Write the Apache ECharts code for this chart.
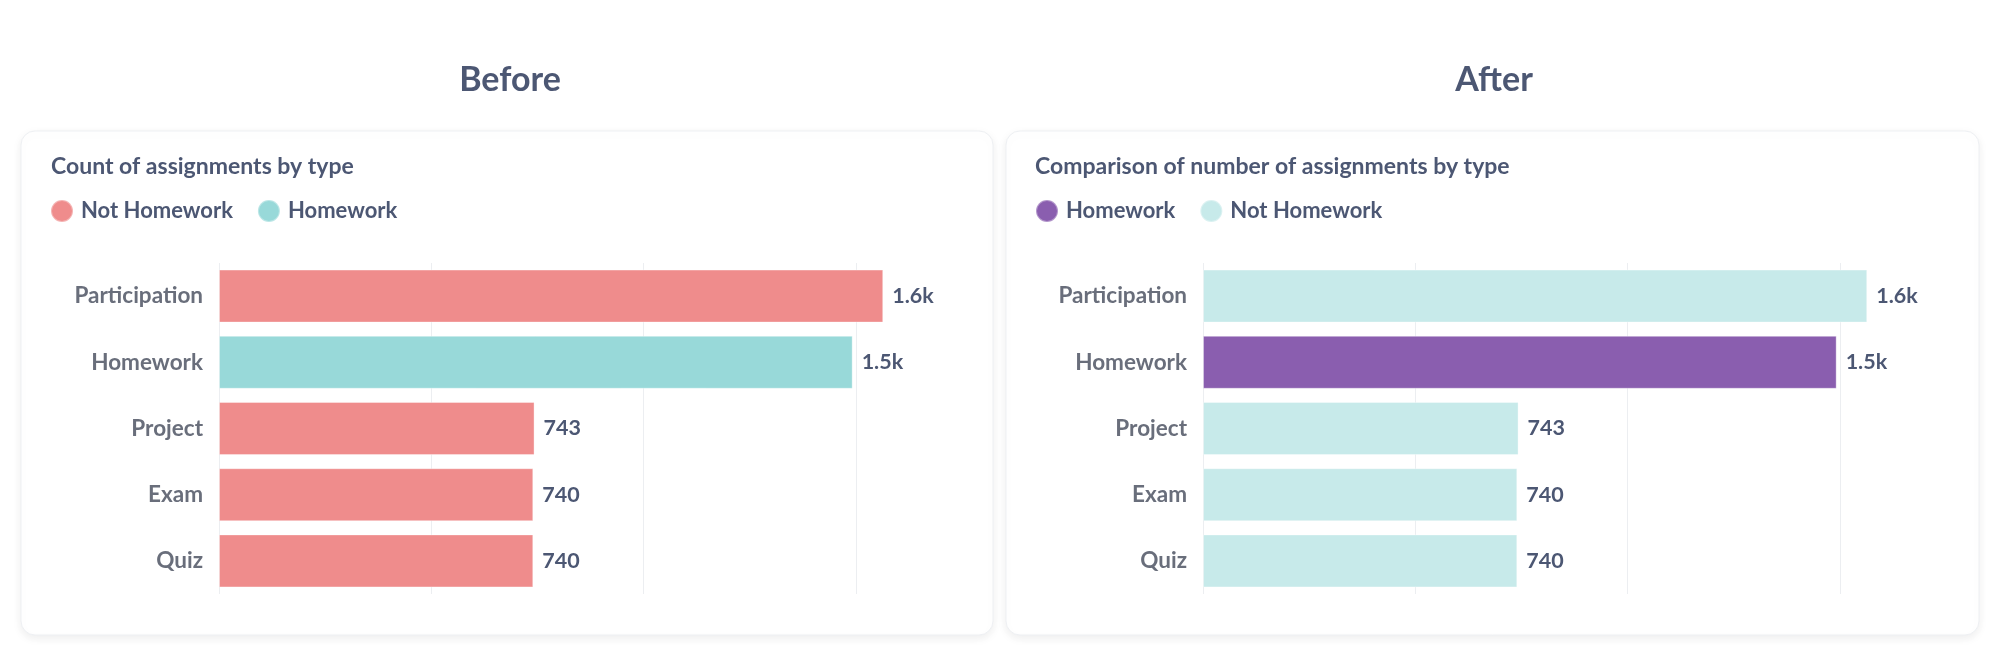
<!DOCTYPE html>
<html>
<head>
<meta charset="utf-8">
<script src="https://cdn.jsdelivr.net/npm/echarts@6/dist/echarts.min.js"></script>
<style>
  html, body { margin: 0; padding: 0; background: #ffffff; }
  #chart { width: 1999px; height: 651px; }
</style>
</head>
<body>
<div id="chart"></div>
<script>
// ---- data ----
const categories = ['Participation', 'Homework', 'Project', 'Exam', 'Quiz'];
const notHomeworkCounts = [1564, '-', 743, 740, 740];
const homeworkCounts = ['-', 1492, '-', '-', '-'];
const panelTitles = ['Before', 'After'];
const cardTitles = ['Count of assignments by type', 'Comparison of number of assignments by type'];

// ---- styling ----
const FONT = 'Lato';
const beforeColors = { notHw: '#EF8C8C', hw: '#98D9D9' };
const afterColors = { notHw: '#C7EAEA', hw: '#8A5EAF' };
const titleColor = '#4C5773';
const labelGray = '#696E7B';

function fmt(v) {
  if (v >= 1000) return (v / 1000).toFixed(1) + 'k';
  return String(v);
}

const chart = echarts.init(document.getElementById('chart'), null, { renderer: 'canvas' });

const cards = [
  { x: 21, w: 972, center: 510, gridLeft: 219, textLeft: 51, legendLeft: 45 },
  { x: 1006, w: 973, center: 1494, gridLeft: 1203, textLeft: 1035, legendLeft: 1030 }
];

const gridTop = 263;
const gridHeight = 331;
const axisMax = 1600;
const pxPerUnit = 0.4247;

const grids = cards.map(c => ({
  left: c.gridLeft, top: gridTop, height: gridHeight, width: axisMax * pxPerUnit, containLabel: false
}));

const xAxes = cards.map((c, i) => ({
  type: 'value', gridIndex: i, min: 0, max: axisMax, interval: 500,
  axisLabel: { show: false }, axisLine: { show: false }, axisTick: { show: false },
  splitLine: { show: true, showMaxLine: false, lineStyle: { color: '#ECEEF1', width: 1 } }
}));

const yAxes = cards.map((c, i) => ({
  type: 'category', gridIndex: i, data: categories, inverse: true,
  axisLine: { show: false }, axisTick: { show: false },
  axisLabel: { margin: 16, fontFamily: FONT, fontSize: 22.5, fontWeight: 'bold', color: labelGray }
}));

const labelOpt = {
  show: true, position: 'right', distance: 9,
  fontFamily: FONT, fontSize: 21.5, fontWeight: 'bold', color: titleColor,
  formatter: p => fmt(p.value)
};

function barSeries(name, data, color, idx) {
  return {
    type: 'bar', name: name, data: data, xAxisIndex: idx, yAxisIndex: idx,
    barGap: '-100%', barCategoryGap: '20%',
    itemStyle: { color: color, borderColor: 'rgba(255,255,255,0.35)', borderWidth: 1 },
    label: labelOpt, silent: true, animation: false
  };
}

const series = [
  barSeries('Not Homework', notHomeworkCounts, beforeColors.notHw, 0),
  barSeries('Homework', homeworkCounts, beforeColors.hw, 0),
  barSeries('Homework', homeworkCounts, afterColors.hw, 1),
  barSeries('Not Homework', notHomeworkCounts, afterColors.notHw, 1)
];

const legendBase = {
  icon: 'circle', itemWidth: 22, itemHeight: 22, itemGap: 24, top: 194,
  selectedMode: false, orient: 'horizontal',
  textStyle: { fontFamily: FONT, fontSize: 22, fontWeight: 'bold', color: titleColor, padding: [0, 0, 0, 3] }
};

const legends = [
  Object.assign({}, legendBase, {
    left: cards[0].legendLeft,
    data: [
      { name: 'Not Homework', itemStyle: { color: beforeColors.notHw } },
      { name: 'Homework', itemStyle: { color: beforeColors.hw } }
    ]
  }),
  Object.assign({}, legendBase, {
    left: cards[1].legendLeft,
    data: [
      { name: 'Homework', itemStyle: { color: afterColors.hw } },
      { name: 'Not Homework', itemStyle: { color: afterColors.notHw } }
    ]
  })
];

const graphics = [];
cards.forEach((c, i) => {
  graphics.push({
    type: 'rect', z: -10,
    shape: { x: c.x, y: 131, width: c.w, height: 504, r: 14 },
    style: { fill: '#ffffff', stroke: '#EEF0F3', lineWidth: 1,
             shadowBlur: 10, shadowOffsetY: 3, shadowColor: 'rgba(0,0,0,0.07)' }
  });
  graphics.push({
    type: 'text', z: 10,
    style: { x: c.center, y: 80, text: panelTitles[i], textAlign: 'center', textVerticalAlign: 'middle',
             font: 'bold 34px ' + FONT, fill: titleColor }
  });
  graphics.push({
    type: 'text', z: 10,
    style: { x: c.textLeft, y: 167, text: cardTitles[i], textAlign: 'left', textVerticalAlign: 'middle',
             font: 'bold 23px ' + FONT, fill: titleColor }
  });
});

chart.setOption({
  backgroundColor: '#ffffff',
  animation: false,
  grid: grids,
  xAxis: xAxes,
  yAxis: yAxes,
  legend: legends,
  series: series,
  graphic: graphics
});
</script>
</body>
</html>
